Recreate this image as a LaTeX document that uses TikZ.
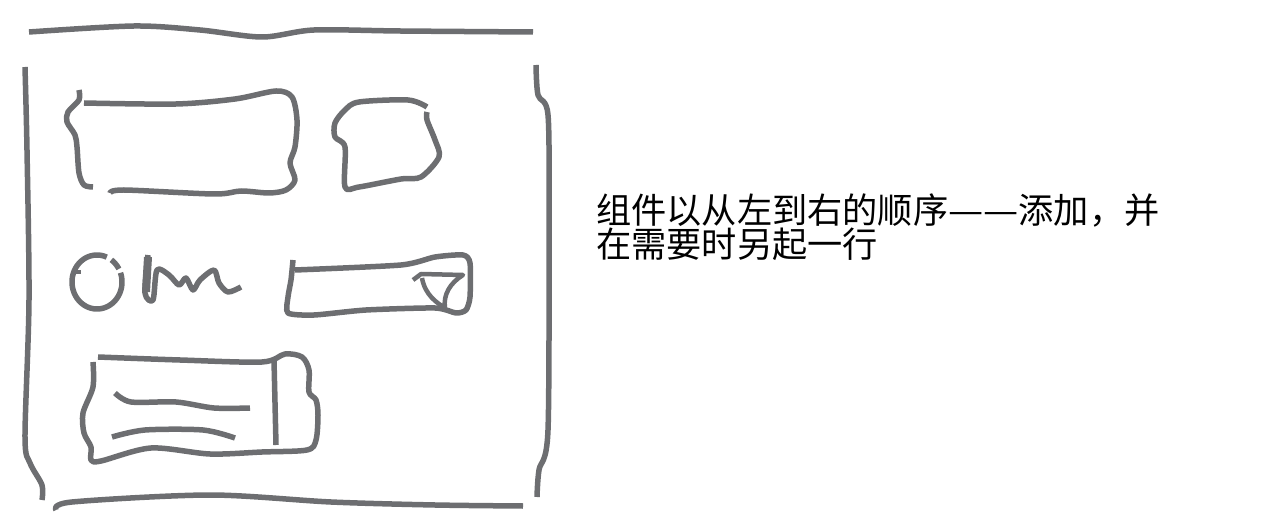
\documentclass[tikz,border=0pt]{standalone}
\usepackage{fontspec}
\newfontfamily\cjk{Noto Sans CJK SC}
\definecolor{sk}{HTML}{6D6E71}
\newcommand{\sdash}{\makebox[1em]{\scalebox{1.12}[1]{—}}}
\begin{document}
\begin{tikzpicture}[x=1pt,y=-1pt,
  sketch/.style={draw=sk,line width=5.5pt,line join=round},
  caption/.style={anchor=base west,inner sep=0pt,align=left,text=black,font=\cjk\fontsize{35.2}{31}\selectfont}]
\useasboundingbox (0,0) rectangle (1261,529);
% outer window frame
\draw[sketch] plot[smooth,tension=0.5] coordinates {(29,32) (134,26) (200,30) (262,37) (314,30) (400,31) (533,32)};
\draw[sketch] plot[smooth,tension=0.5] coordinates {(25,67) (27,150) (29,300) (25,437) (30,463) (42,485) (42,500)};
\draw[sketch] plot[smooth,tension=0.5] coordinates {(536,65) (538,95) (548,115) (549,220) (548,430) (539,470) (537,497)};
\draw[sketch] plot[smooth,tension=0.5] coordinates {(56,510) (72,502) (210,495) (331,502) (435,505) (523,506)};
% component 1: wide box
\draw[sketch] plot[smooth,tension=0.5] coordinates {(79,90) (79,100) (68,112) (67,122) (75,135) (77,147) (79,173) (84,185) (93,187)};
\draw[sketch] plot[smooth,tension=0.5] coordinates {(84,103) (176,104) (235,99) (276,91) (292,97) (297,120) (295,147) (290,163) (295,180) (286,190) (269,193) (241,191) (214,194) (124,190) (110,193)};
% component 2: small box
\draw[sketch] plot[smooth,tension=0.5] coordinates {(427,107) (408,100) (359,102) (345,110) (335,123) (335,137) (345,147) (345,187) (359,187) (401,179) (421,177) (439,157) (435,140) (427,120) (427,112)};
% component 3: radio circle
\draw[sketch] plot[domain=67:380,samples=70,smooth] ({97+25*cos(\x)},{282-27*sin(\x)});
\draw[sketch] plot[domain=29:55,samples=8,smooth] ({97+25*cos(\x)},{282-27*sin(\x)});
\draw[sketch,line width=4pt] (72,272) -- (81,272);
% component 4: scribble label
\draw[sketch,line width=8pt] (148,257) -- (146,292);
\draw[sketch] plot[smooth,tension=0.5] coordinates {(148,255) (145,293) (153,300) (157,270) (169,275) (179,285) (186,278) (193,290) (200,280) (214,270) (219,283) (228,292) (241,287)};
% component 5: dropdown
\draw[sketch] plot[smooth,tension=0.4] coordinates {(293,260) (291,280) (288,297) (288,313) (314,315) (366,310) (435,308) (456,313) (466,310) (470,297) (470,263) (463,255) (435,257) (401,265) (295,270)};
\draw[sketch,line width=4.5pt] (413,280) -- (421,274) -- (463,275) .. controls (450,283) and (443,295) .. (445,308) .. controls (437,303) and (425,295) .. (422,278);
% component 6: list box
\draw[sketch] plot[smooth,tension=0.5] coordinates {(93,362) (93,387) (83,413) (84,433) (91,447) (91,460) (101,461) (151,448) (210,454) (262,452) (307,450) (316,440) (318,415) (316,400) (309,392) (309,370) (302,357) (285,354) (262,362) (180,360) (98,357)};
\draw[sketch] (274,360) -- (276,445);
\draw[sketch] plot[smooth,tension=0.5] coordinates {(115,393) (131,402) (176,402) (214,408) (250,408)};
\draw[sketch] plot[smooth,tension=0.5] coordinates {(112,437) (145,430) (203,430) (235,438)};
% caption
\node[caption] (cap) at (596,258) {组件以从左到右的顺序\sdash\sdash 添加，并\\在需要时另起一行};
\end{tikzpicture}
\end{document}
